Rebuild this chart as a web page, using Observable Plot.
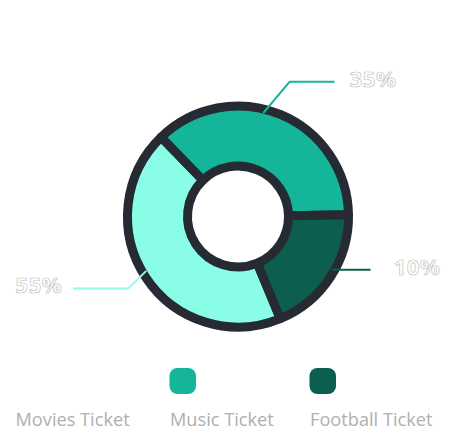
<!DOCTYPE html>
<html>
<head>
<meta charset="utf-8">
<script src="https://cdn.jsdelivr.net/npm/d3@7"></script>
<script src="https://cdn.jsdelivr.net/npm/@observablehq/plot@0.6"></script>
<style>
  html, body { margin: 0; padding: 0; background: #ffffff; }
  #chart svg { display: block; }
  .pct text { paint-order: fill; letter-spacing: 0.5px; }
</style>
</head>
<body>
<div id="chart"></div>
<script>
// ---- data ----
const categories = ["Movies Ticket", "Music Ticket", "Football Ticket"];
const sliceValues = [44, 37, 19];            // slice sizes as drawn
const percentLabels = ["55%", "35%", "10%"]; // label texts as printed
const sliceColors = ["#8afde7", "#14b598", "#0c5e4e"];
const swatchColors = ["#ffffff", "#14b598", "#0c5e4e"];

// ---- layout ----
const W = 450, H = 436;
const CX = 238, CY = 216.5;
const R_OUT = 110.5, R_IN = 50.5, RING = "#262b33";
const START_DEG = 157.5;
const rad = d => d * Math.PI / 180;
// leader layout per slice: start angle (deg), start radius, elbow dx/dy, horizontal run, label gap
const leaderLayout = [
  {angle: 239.6, r: 107.5, ex: -17.4, ey: 17, run: -54.3, gap: -12},
  {angle: 13.6,  r: 107.5, ex: 25.7, ey: -30.7, run: 44.3, gap: 16},
  {angle: 119.4, r: 107.5, ex: 0, ey: 0, run: 37.6, gap: 24}
];
const legendX = [15, 169.5, 309.5];
const legendSwatchY = [368, 394];
const legendTextY = 420;

const pie = d3.pie().sort(null).value(d => d)
  .startAngle(rad(START_DEG)).endAngle(rad(START_DEG + 360));
const arcs = pie(sliceValues);

const leaders = [];
const labels = [];
leaderLayout.forEach((L, i) => {
  const x0 = CX + L.r * Math.sin(rad(L.angle));
  const y0 = CY - L.r * Math.cos(rad(L.angle));
  const x1 = x0 + L.ex, y1 = y0 + L.ey;
  const x2 = x1 + L.run;
  leaders.push({k: i, x: x0, y: y0}, {k: i, x: x1, y: y1}, {k: i, x: x2, y: y1});
  labels.push({k: i, x: x2 + L.gap, y: y1 - 2, text: percentLabels[i], anchor: L.run < 0 ? "end" : "start"});
});

const legend = categories.map((c, i) => ({name: c, x: legendX[i], color: swatchColors[i]}));

function donut(index, scales) {
  const g = d3.create("svg:g")
    .attr("transform", `translate(${scales.x(CX)},${scales.y(CY)})`);
  const arc = d3.arc().innerRadius(R_IN).outerRadius(R_OUT);
  g.selectAll("path").data(arcs).join("path")
    .attr("d", arc)
    .attr("fill", d => sliceColors[d.index])
    .attr("stroke", RING)
    .attr("stroke-width", 9)
    .attr("stroke-linejoin", "round");
  return g.node();
}

const pctStyle = {x: "x", y: "y", text: "text", lineAnchor: "middle", className: "pct",
  fontSize: 22, fontWeight: 700, fill: "#ffffff", stroke: "#c2c2c2", strokeWidth: 0.7};

const chart = Plot.plot({
  width: W, height: H, margin: 0,
  x: {domain: [0, W], range: [0, W], axis: null},
  y: {domain: [0, H], range: [0, H], axis: null},
  style: {background: "#ffffff", fontFamily: "'Open Sans', sans-serif"},
  marks: [
    donut,
    Plot.line(leaders, {x: "x", y: "y", z: "k", stroke: d => sliceColors[d.k], strokeWidth: 2, curve: "linear"}),
    Plot.text(labels.filter(d => d.anchor === "start"), {...pctStyle, textAnchor: "start"}),
    Plot.text(labels.filter(d => d.anchor === "end"), {...pctStyle, textAnchor: "end"}),
    Plot.rect(legend, {x1: "x", x2: d => d.x + 26.5, y1: () => legendSwatchY[0], y2: () => legendSwatchY[1], fill: "color", rx: 8}),
    Plot.text(legend, {x: "x", y: () => legendTextY, text: "name", textAnchor: "start", lineAnchor: "middle",
      fontSize: 18.2, fontWeight: 500, fill: "#b0b0b0"})
  ]
});
document.getElementById("chart").appendChild(chart);
</script>
</body>
</html>
